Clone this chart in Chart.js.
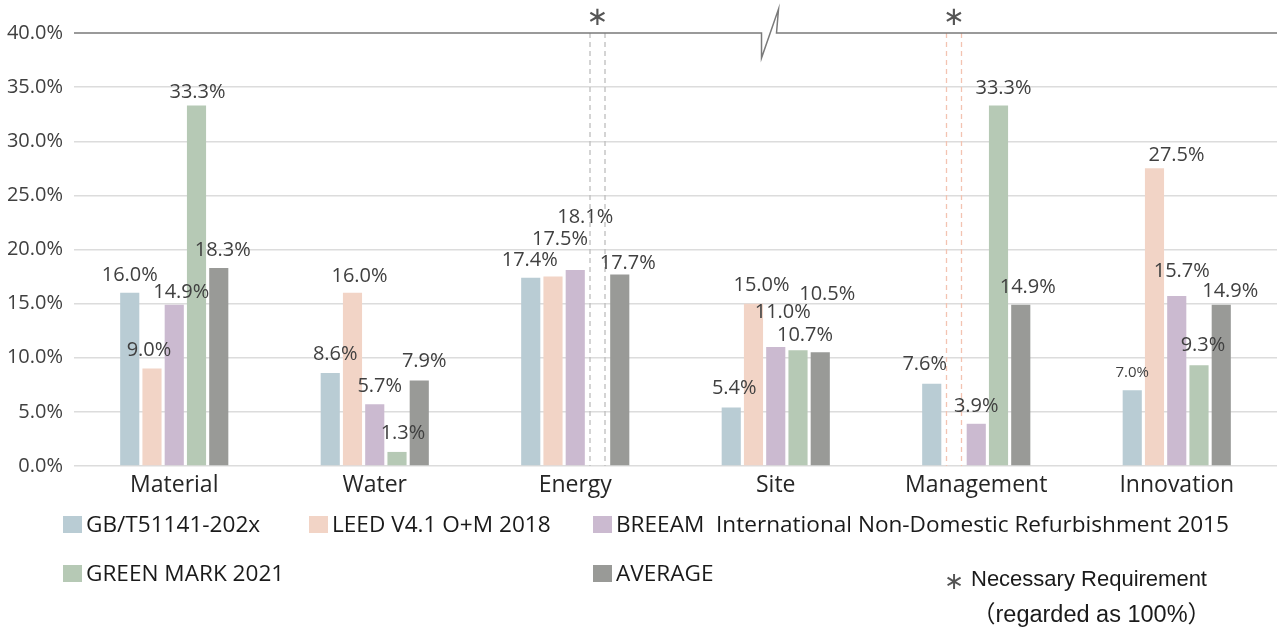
<!DOCTYPE html>
<html>
<head>
<meta charset="utf-8">
<script src="https://cdn.jsdelivr.net/npm/chart.js@4.4.1/dist/chart.umd.min.js"></script>
<style>
  html, body { margin: 0; padding: 0; background: #ffffff; }
  #wrap { position: relative; width: 1280px; height: 629px; overflow: hidden; }
  #c { position: absolute; left: 0; top: 0; }
  .lg { position: absolute; height: 30px; line-height: 30px; font-family: 'Open Sans', sans-serif; font-size: 22.6px; color: #1a1a1a; white-space: pre; }
  .box { position: absolute; width: 19px; height: 17px; }
  .note { position: absolute; font-family: 'Liberation Sans', Arial, sans-serif; font-size: 22px; color: #1a1a1a; white-space: pre; line-height: 28px; height: 28px; }
</style>
</head>
<body>
<div id="wrap">
  <canvas id="c" width="1280" height="629"></canvas>
  <div id="legend"></div>
  <div class="note" style="left:944px; top:567px; color:#555; font-family:'DejaVu Sans', sans-serif; font-size:24px;">∗</div>
  <div class="note" style="left:971px; top:565px;">Necessary Requirement</div>
  <div class="note" style="left:972px; top:598px; font-size:23.5px;"><span style="font-family:'Noto Sans CJK SC', sans-serif;">（</span>regarded as 100%<span style="font-family:'Noto Sans CJK SC', sans-serif;">）</span></div>
</div>
<script>
// ---------------- data ----------------
const categories = ['Material', 'Water', 'Energy', 'Site', 'Management', 'Innovation'];
const seriesNames = ['GB/T51141-202x', 'LEED V4.1 O+M 2018', 'BREEAM  International Non-Domestic Refurbishment 2015', 'GREEN MARK 2021', 'AVERAGE'];
const gbValues       = [16.0, 8.6, 17.4, 5.4, 7.6, 7.0];
const leedValues     = [9.0, 16.0, 17.5, 15.0, null, 27.5];
const breeamValues   = [14.9, 5.7, 18.1, 11.0, 3.9, 15.7];
const greenMarkValues= [33.3, 1.3, null, 10.7, 33.3, 9.3];
const averageValues  = [18.3, 7.9, 17.7, 10.5, 14.9, 14.9];
const yTickValues    = [0, 5, 10, 15, 20, 25, 30, 35, 40];
// "Necessary requirement" entries (series index, category index)
const necessaryMarks = [[3, 2], [1, 4]];

// ---------------- styles ----------------
const seriesColors = ['#b9ccd4', '#f2d4c6', '#cbbad0', '#b6c9b5', '#999a97'];
const necessaryLineColors = ['#bdbdbd', '#f3c3b1'];
// label nudges [dx, dy above bar top] per series / category
const labelNudge = [
  [[0, 18], [5, 19], [-1, 17], [3, 19], [-7, 19], [0, 17]],
  [[-3, 18], [7, 17], [7, 37], [8, 18], [0, 0], [22, 13]],
  [[7, 12], [5, 18], [10, 53], [7, 35], [0, 17], [5, 25]],
  [[1, 13], [6, 19], [0, 0], [7, 15], [5, 17], [4, 20]],
  [[4, 18], [5, 19], [8, 11], [7, 58], [7, 17], [9, 13]]
];
const smallLabels = [[0, 5]];

const seriesData = [gbValues, leedValues, breeamValues, greenMarkValues, averageValues];

// ---------------- legend (HTML) ----------------
const legendPos = [[63, 524], [309, 524], [593, 524], [63, 573], [593, 573]];
const legendEl = document.getElementById('legend');
seriesNames.forEach((name, i) => {
  const [x, cy] = legendPos[i];
  const b = document.createElement('div');
  b.className = 'box';
  b.style.left = x + 'px';
  b.style.top = (cy - 8.5) + 'px';
  b.style.background = seriesColors[i];
  legendEl.appendChild(b);
  const t = document.createElement('div');
  t.className = 'lg';
  t.style.left = (x + 23) + 'px';
  t.style.top = (cy - 15) + 'px';
  t.textContent = name;
  legendEl.appendChild(t);
});

// ---------------- plugin ----------------
function slotX(chart, s, c) {
  const el = chart.getDatasetMeta(s).data[c];
  if (el && isFinite(el.x)) return el.x;
  const a = chart.getDatasetMeta(s - 1).data[c].x;
  const b = chart.getDatasetMeta(s + 1).data[c].x;
  return (a + b) / 2;
}

const decorPlugin = {
  id: 'decor',
  beforeDatasetsDraw(chart) {
    const ctx = chart.ctx;
    const yScale = chart.scales.y;
    const top = yScale.getPixelForValue(40);
    const bottom = yScale.getPixelForValue(0);
    ctx.save();
    ctx.lineWidth = 1.3;
    ctx.setLineDash([5, 4]);
    necessaryMarks.forEach(([s, c], k) => {
      const cx = slotX(chart, s, c);
      ctx.strokeStyle = necessaryLineColors[k];
      [-7.5, 7.5].forEach(off => {
        ctx.beginPath();
        ctx.moveTo(cx + off, top);
        ctx.lineTo(cx + off, bottom);
        ctx.stroke();
      });
    });
    ctx.restore();
  },
  afterDatasetsDraw(chart) {
    const ctx = chart.ctx;
    const area = chart.chartArea;
    const yScale = chart.scales.y;
    const top = yScale.getPixelForValue(40);
    // top line with axis-break symbol
    const bx = area.left + 0.5715 * (area.right - area.left);
    ctx.save();
    ctx.strokeStyle = '#7a7a7a';
    ctx.lineWidth = 1.5;
    ctx.beginPath();
    ctx.moveTo(area.left, top);
    ctx.lineTo(bx, top);
    ctx.lineTo(bx, top + 25);
    ctx.lineTo(bx + 17, top - 24);
    ctx.lineTo(bx + 15, top);
    ctx.lineTo(area.right, top);
    ctx.stroke();
    // asterisks
    ctx.fillStyle = '#555555';
    ctx.font = '26px "DejaVu Sans"';
    ctx.textAlign = 'center';
    ctx.textBaseline = 'middle';
    necessaryMarks.forEach(([s, c]) => {
      ctx.fillText('∗', slotX(chart, s, c), top - 15);
    });
    // data labels
    ctx.fillStyle = '#404040';
    seriesData.forEach((vals, s) => {
      const meta = chart.getDatasetMeta(s);
      vals.forEach((v, c) => {
        if (v === null || v === undefined) return;
        const el = meta.data[c];
        const [dx, dy] = labelNudge[s][c];
        const small = smallLabels.some(([ss, cc]) => ss === s && cc === c);
        ctx.font = (small ? '15px' : '20px') + ' "Open Sans"';
        ctx.fillText(v.toFixed(1) + '%', el.x + dx, el.y - dy);
      });
    });
    ctx.restore();
  }
};

// ---------------- chart ----------------
Chart.defaults.font.family = "'Open Sans', sans-serif";
new Chart(document.getElementById('c'), {
  type: 'bar',
  data: {
    labels: categories,
    datasets: seriesData.map((vals, i) => ({
      label: seriesNames[i],
      data: vals,
      backgroundColor: seriesColors[i],
      borderWidth: 0,
      barPercentage: 0.86,
      categoryPercentage: 0.555
    }))
  },
  options: {
    responsive: false,
    animation: false,
    devicePixelRatio: 1,
    layout: { padding: { top: 33, left: 0, right: 3, bottom: 128 } },
    plugins: { legend: { display: false }, tooltip: { enabled: false } },
    scales: {
      x: {
        grid: { display: false },
        border: { display: false },
        ticks: { color: '#262626', font: { size: 23 }, padding: -2, maxRotation: 0, autoSkip: false },
        afterFit(scale) { scale.height = 35; }
      },
      y: {
        min: 0, max: 40,
        afterBuildTicks(scale) { scale.ticks = yTickValues.map(v => ({ value: v })); },
        ticks: { color: '#404040', font: { size: 20 }, padding: 11, callback: v => Number(v).toFixed(1) + '%' },
        grid: {
          drawTicks: false,
          lineWidth: 1.5,
          color: ctx => (ctx.tick && ctx.tick.value === 40) ? 'rgba(0,0,0,0)' : '#dcdcdc'
        },
        border: { display: false },
        afterFit(scale) { scale.width = 74; }
      }
    }
  },
  plugins: [decorPlugin]
});
</script>
</body>
</html>
